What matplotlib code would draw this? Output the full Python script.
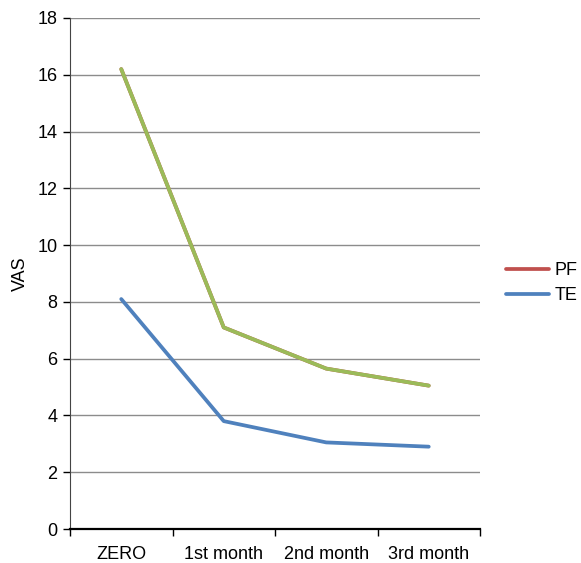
import matplotlib.pyplot as plt

plt.rcParams['font.family'] = ['Liberation Sans', 'DejaVu Sans']

periods = ["ZERO", "1st month", "2nd month", "3rd month"]
pf = [16.2, 7.1, 5.65, 5.05]
te = [8.1, 3.8, 3.05, 2.9]
# third series drawn over PF in the original (same values, no legend entry)
pf_overlay = [16.2, 7.1, 5.65, 5.05]

fig = plt.figure(figsize=(5.81, 5.63), dpi=100)
ax = fig.add_axes([70/581, 1 - 529/563, 410/581, 511/563])

x = list(range(len(periods)))
ax.plot(x, pf, color="#C0504D", lw=2.7, label="PF", solid_capstyle="round")
ax.plot(x, te, color="#4F81BD", lw=2.7, label="TE", solid_capstyle="round")
ax.plot(x, pf_overlay, color="#9BBB59", lw=2.7, label="_nolegend_", solid_capstyle="round")

ax.set_xlim(-0.5, len(periods) - 0.5)
ax.set_ylim(0, 18)
ax.set_yticks(range(0, 19, 2))
ax.yaxis.grid(True, color="#8c8c8c", lw=1)
ax.set_axisbelow(True)

ax.set_xticks([i - 0.5 for i in range(len(periods) + 1)])
ax.set_xticklabels([])
ax.set_xticks(x, minor=True)
ax.set_xticklabels(periods, minor=True)
ax.tick_params(axis="x", which="minor", length=0, pad=12, labelsize=13)
ax.tick_params(axis="x", which="major", length=5, width=1, direction="out")
ax.tick_params(axis="y", length=5, width=1, direction="out", labelsize=13, pad=4)

for s in ["top", "right"]:
    ax.spines[s].set_visible(False)
ax.spines["bottom"].set_linewidth(1.6)
ax.spines["left"].set_color("#444444")

ax.set_ylabel("VAS", fontsize=13, labelpad=6)

ax.legend(loc="center left", bbox_to_anchor=(1.045, 0.481), frameon=False,
          fontsize=13, handlelength=2.4, handletextpad=0.3, labelspacing=0.45,
          borderaxespad=0)

fig.savefig("out.png", dpi=100)
